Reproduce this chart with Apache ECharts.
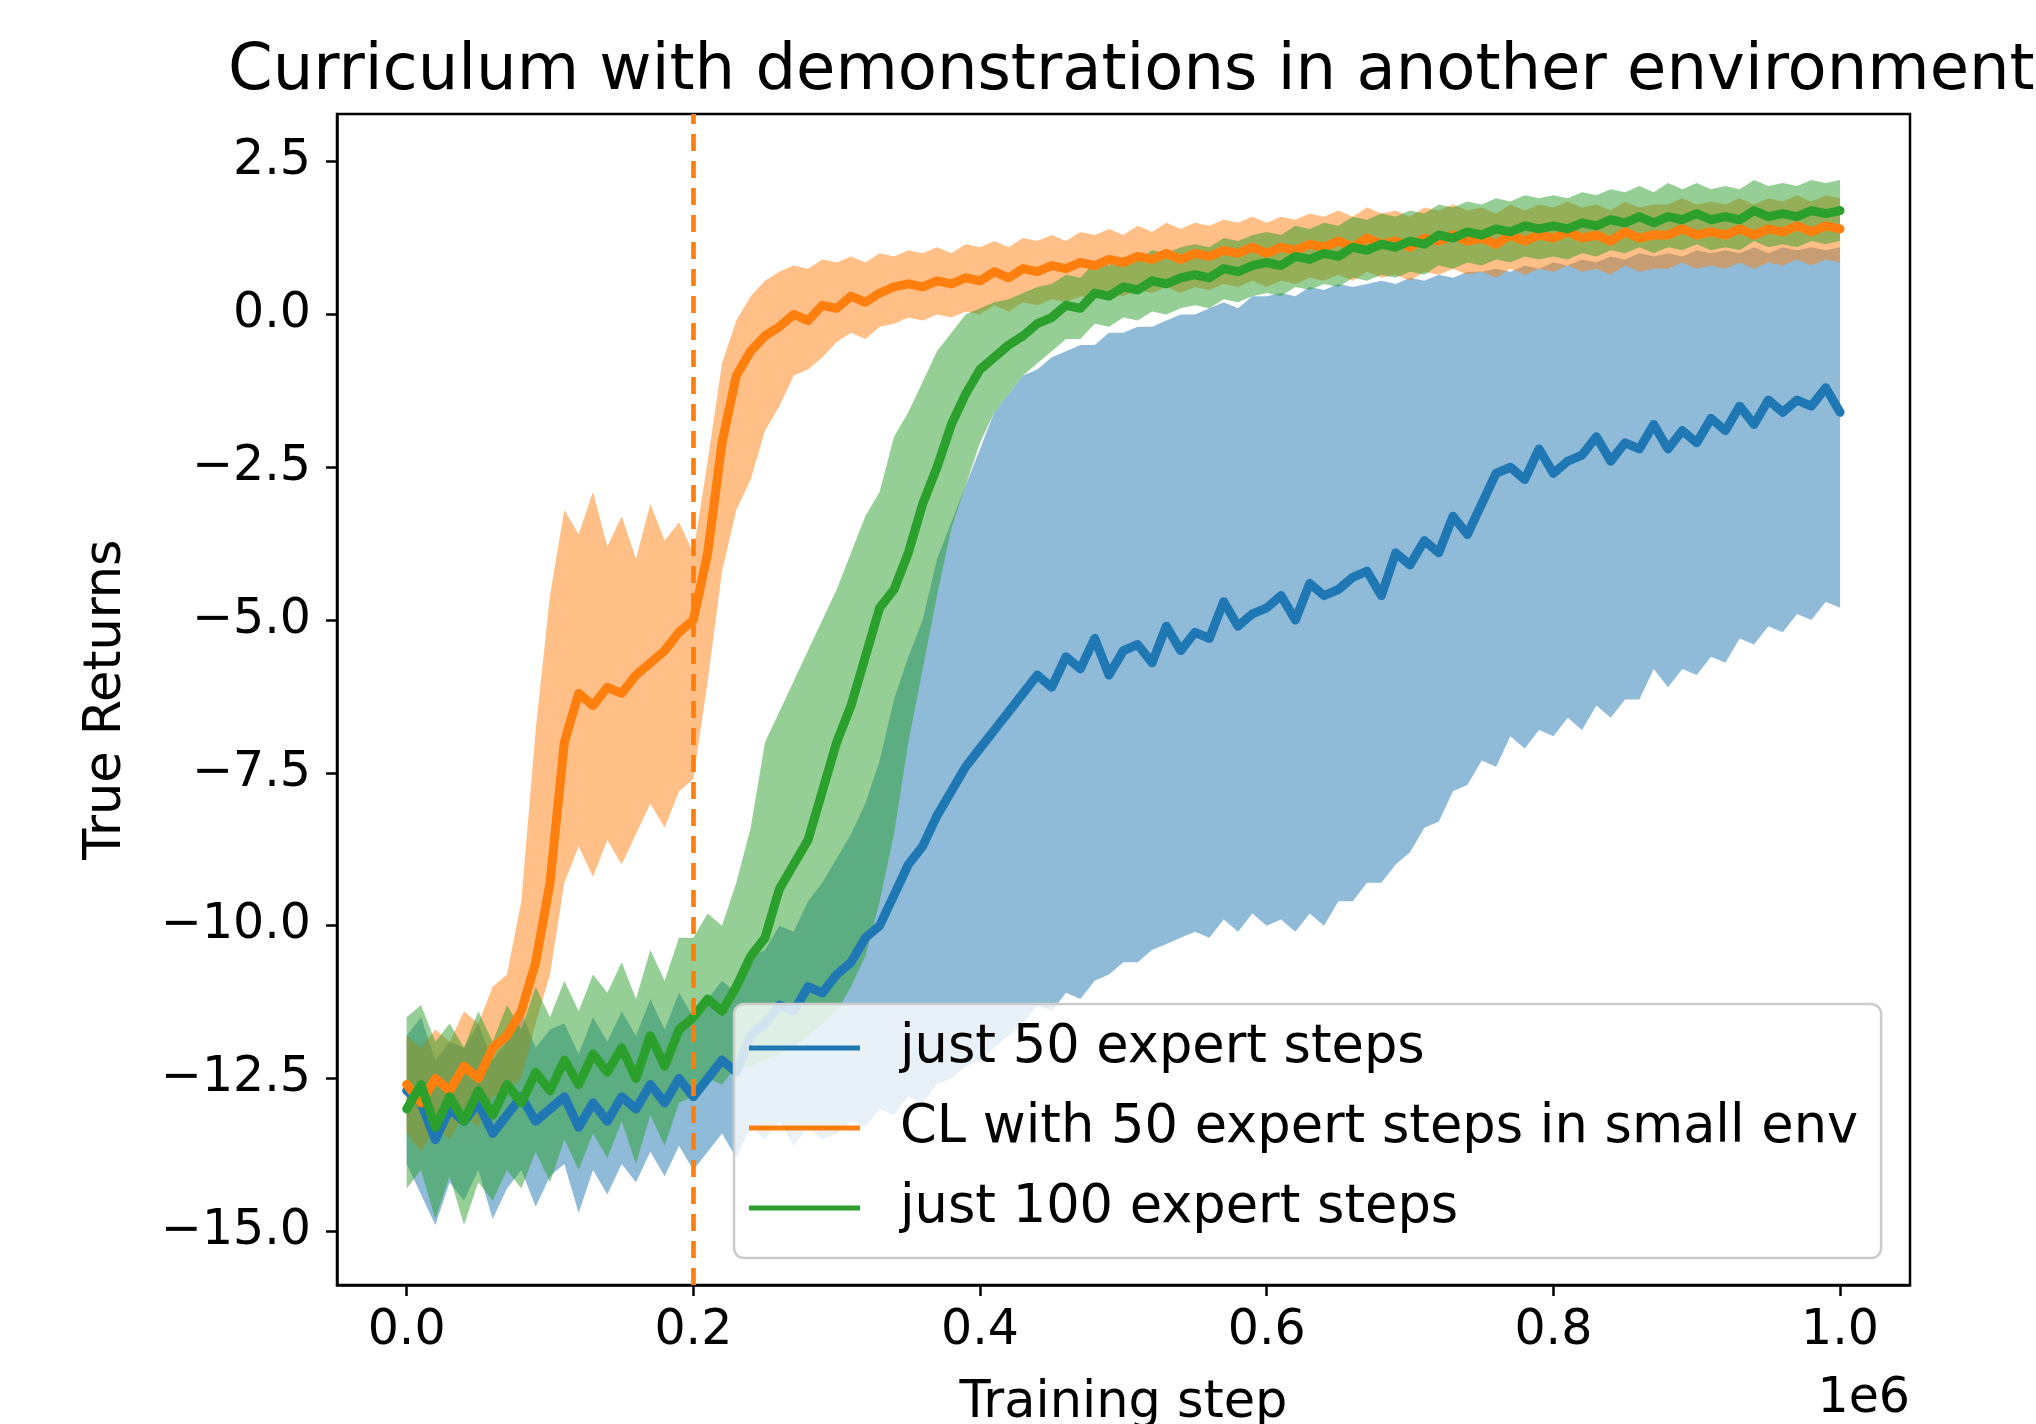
<!DOCTYPE html>
<html><head><meta charset="utf-8">
<script src="https://cdn.jsdelivr.net/npm/echarts@6/dist/echarts.min.js"></script>
<style>html,body{margin:0;padding:0;background:#fff}#c{width:2036px;height:1424px}</style>
</head><body><div id="c"></div><script>
// training steps (thousands)
const STEP_K = [0,10,20,30,40,50,60,70,80,90,100,110,120,130,140,150,160,170,180,190,200,210,220,230,240,250,260,270,280,290,300,310,320,330,340,350,360,370,380,390,400,410,420,430,440,450,460,470,480,490,500,510,520,530,540,550,560,570,580,590,600,610,620,630,640,650,660,670,680,690,700,710,720,730,740,750,760,770,780,790,800,810,820,830,840,850,860,870,880,890,900,910,920,930,940,950,960,970,980,990,1000];

// just 50 expert steps
const blueMean = [-12.7,-12.9,-13.5,-13.0,-13.2,-12.9,-13.4,-13.1,-12.8,-13.2,-13.0,-12.8,-13.3,-12.9,-13.2,-12.8,-13.0,-12.6,-12.9,-12.5,-12.8,-12.5,-12.2,-12.4,-11.8,-11.6,-11.3,-11.4,-11.0,-11.1,-10.8,-10.6,-10.2,-10.0,-9.5,-9.0,-8.7,-8.2,-7.8,-7.4,-7.1,-6.8,-6.5,-6.2,-5.9,-6.1,-5.6,-5.8,-5.3,-5.9,-5.5,-5.4,-5.7,-5.1,-5.5,-5.2,-5.3,-4.7,-5.1,-4.9,-4.8,-4.6,-5.0,-4.4,-4.6,-4.5,-4.3,-4.2,-4.6,-3.9,-4.1,-3.7,-3.9,-3.3,-3.6,-3.1,-2.6,-2.5,-2.7,-2.2,-2.6,-2.4,-2.3,-2.0,-2.4,-2.1,-2.2,-1.8,-2.2,-1.9,-2.1,-1.7,-1.9,-1.5,-1.8,-1.4,-1.6,-1.4,-1.5,-1.2,-1.6];
const blueUpper = [-11.8,-11.5,-12.2,-11.9,-12.0,-11.6,-12.2,-11.9,-11.4,-12.0,-11.7,-11.6,-12.1,-11.5,-11.9,-11.4,-11.8,-11.2,-11.7,-11.1,-11.5,-11.2,-10.9,-11.1,-10.5,-10.4,-10.0,-10.1,-9.6,-9.3,-8.9,-8.5,-8.0,-7.3,-6.3,-5.6,-5.0,-4.0,-3.4,-2.8,-2.2,-1.6,-1.3,-1.0,-0.9,-0.7,-0.6,-0.5,-0.5,-0.3,-0.3,-0.2,-0.2,-0.1,0.0,0.0,0.1,0.2,0.1,0.3,0.3,0.35,0.3,0.45,0.4,0.5,0.45,0.5,0.55,0.5,0.6,0.55,0.65,0.6,0.7,0.7,0.75,0.7,0.8,0.75,0.85,0.8,0.9,0.85,0.95,0.9,1.0,0.95,1.0,0.95,1.05,1.0,1.05,1.0,1.1,1.0,1.1,1.05,1.1,1.05,1.1];
const blueLower = [-13.9,-14.4,-14.9,-14.2,-14.5,-14.0,-14.8,-14.3,-14.0,-14.6,-14.1,-13.9,-14.7,-14.0,-14.4,-13.9,-14.2,-13.7,-14.1,-13.6,-14.0,-13.7,-13.4,-13.8,-13.3,-13.5,-13.2,-13.6,-13.3,-13.5,-13.4,-13.2,-13.3,-13.0,-13.1,-12.8,-12.9,-12.6,-12.5,-12.3,-12.2,-12.0,-11.8,-11.6,-11.3,-11.4,-11.1,-11.2,-10.9,-10.8,-10.6,-10.6,-10.4,-10.3,-10.2,-10.1,-10.2,-9.9,-10.1,-9.8,-10.0,-9.9,-10.1,-9.8,-10.0,-9.6,-9.6,-9.3,-9.3,-9.0,-8.8,-8.4,-8.3,-7.8,-7.7,-7.3,-7.4,-6.9,-7.1,-6.8,-6.9,-6.6,-6.8,-6.4,-6.6,-6.3,-6.3,-5.8,-6.1,-5.8,-5.9,-5.6,-5.7,-5.3,-5.4,-5.1,-5.2,-4.9,-5.0,-4.7,-4.8];

// CL with 50 expert steps in small env
const orangeMean = [-12.6,-12.9,-12.5,-12.7,-12.3,-12.5,-12.0,-11.8,-11.4,-10.6,-9.3,-7.0,-6.2,-6.4,-6.1,-6.2,-5.9,-5.7,-5.5,-5.2,-5.0,-3.9,-2.1,-1.0,-0.6,-0.35,-0.2,0.0,-0.1,0.15,0.1,0.3,0.2,0.35,0.45,0.5,0.45,0.55,0.5,0.6,0.55,0.7,0.6,0.75,0.7,0.8,0.75,0.85,0.8,0.9,0.85,0.95,0.9,1.0,0.9,1.0,0.95,1.05,1.0,1.1,1.0,1.1,1.05,1.15,1.1,1.2,1.1,1.25,1.15,1.2,1.1,1.25,1.2,1.3,1.2,1.25,1.15,1.3,1.2,1.3,1.25,1.35,1.25,1.3,1.2,1.35,1.25,1.3,1.3,1.4,1.3,1.35,1.3,1.4,1.3,1.4,1.35,1.45,1.35,1.45,1.4];
const orangeUpper = [-11.8,-12.0,-11.7,-11.9,-11.4,-11.6,-11.0,-10.8,-9.6,-6.8,-4.6,-3.2,-3.6,-2.9,-3.8,-3.3,-4.0,-3.1,-3.7,-3.4,-3.9,-2.4,-0.8,-0.1,0.3,0.55,0.7,0.8,0.75,0.9,0.85,0.95,0.85,1.0,0.95,1.05,1.0,1.1,1.0,1.15,1.1,1.2,1.1,1.25,1.2,1.3,1.2,1.35,1.3,1.4,1.3,1.45,1.35,1.5,1.4,1.5,1.45,1.55,1.5,1.6,1.5,1.6,1.55,1.65,1.6,1.7,1.6,1.75,1.65,1.7,1.6,1.75,1.7,1.8,1.7,1.75,1.65,1.8,1.7,1.8,1.75,1.85,1.75,1.8,1.7,1.85,1.75,1.8,1.8,1.9,1.8,1.85,1.8,1.9,1.8,1.9,1.85,1.95,1.85,1.95,1.9];
const orangeLower = [-13.4,-13.7,-13.3,-13.5,-13.1,-13.3,-12.8,-12.7,-12.5,-11.6,-10.8,-9.3,-8.7,-9.2,-8.6,-9.0,-8.5,-8.0,-8.4,-7.8,-7.6,-6.0,-4.2,-3.2,-2.7,-1.9,-1.5,-1.0,-0.9,-0.7,-0.45,-0.3,-0.4,-0.2,-0.15,-0.05,-0.1,0.0,-0.05,0.05,0.0,0.15,0.05,0.2,0.15,0.25,0.2,0.3,0.25,0.35,0.3,0.4,0.35,0.45,0.35,0.45,0.4,0.5,0.45,0.55,0.45,0.55,0.5,0.6,0.55,0.65,0.55,0.7,0.6,0.65,0.55,0.7,0.65,0.75,0.65,0.7,0.6,0.75,0.65,0.75,0.7,0.8,0.7,0.75,0.65,0.8,0.7,0.75,0.75,0.85,0.75,0.8,0.75,0.85,0.75,0.85,0.8,0.9,0.8,0.9,0.85];

// just 100 expert steps
const greenMean = [-13.0,-12.6,-13.3,-12.8,-13.2,-12.7,-13.1,-12.6,-12.9,-12.4,-12.7,-12.2,-12.6,-12.1,-12.4,-12.0,-12.5,-11.8,-12.3,-11.7,-11.5,-11.2,-11.4,-11.0,-10.5,-10.2,-9.4,-9.0,-8.6,-7.8,-7.0,-6.4,-5.6,-4.8,-4.5,-3.9,-3.1,-2.5,-1.8,-1.3,-0.9,-0.7,-0.5,-0.35,-0.15,-0.05,0.15,0.1,0.35,0.3,0.45,0.4,0.55,0.5,0.6,0.65,0.6,0.75,0.7,0.8,0.85,0.8,0.95,0.9,1.0,0.95,1.1,1.05,1.15,1.1,1.2,1.15,1.3,1.25,1.35,1.3,1.4,1.35,1.45,1.4,1.45,1.4,1.5,1.45,1.55,1.5,1.6,1.5,1.6,1.55,1.65,1.55,1.6,1.55,1.7,1.6,1.65,1.6,1.7,1.65,1.7];
const greenUpper = [-11.5,-11.3,-11.9,-11.6,-12.0,-11.4,-11.9,-11.3,-11.7,-11.0,-11.5,-10.9,-11.4,-10.8,-11.1,-10.6,-11.2,-10.4,-10.9,-10.2,-10.2,-9.8,-10.0,-9.3,-8.4,-7.0,-6.5,-6.0,-5.5,-5.0,-4.5,-3.9,-3.3,-2.9,-2.0,-1.6,-1.1,-0.6,-0.3,0.0,0.1,0.2,0.25,0.35,0.45,0.5,0.65,0.6,0.85,0.8,0.95,0.9,1.05,1.0,1.1,1.15,1.1,1.25,1.2,1.3,1.35,1.3,1.45,1.4,1.5,1.45,1.6,1.55,1.65,1.6,1.7,1.65,1.8,1.75,1.85,1.8,1.9,1.85,1.95,1.9,1.95,1.9,2.0,1.95,2.05,2.0,2.1,2.0,2.15,2.05,2.15,2.05,2.1,2.05,2.2,2.1,2.15,2.1,2.2,2.15,2.2];
const greenLower = [-14.3,-14.0,-14.8,-14.1,-14.9,-14.2,-14.5,-14.0,-14.3,-13.7,-14.2,-13.5,-14.0,-13.4,-13.8,-13.2,-13.9,-13.1,-13.6,-12.9,-12.8,-12.5,-12.6,-12.3,-12.3,-12.2,-12.1,-12.0,-11.8,-11.6,-11.4,-11.0,-10.5,-9.6,-8.5,-7.0,-5.8,-4.6,-3.5,-2.8,-2.1,-1.6,-1.3,-1.0,-0.8,-0.6,-0.4,-0.4,-0.15,-0.2,-0.05,-0.1,0.05,0.0,0.1,0.15,0.1,0.25,0.2,0.3,0.35,0.3,0.45,0.4,0.5,0.45,0.6,0.55,0.65,0.6,0.7,0.65,0.8,0.75,0.85,0.8,0.9,0.85,0.95,0.9,0.95,0.9,1.0,0.95,1.05,1.0,1.1,1.0,1.1,1.05,1.15,1.05,1.1,1.05,1.2,1.1,1.15,1.1,1.2,1.15,1.2];

const SERIES_NAMES = ['just 50 expert steps', 'CL with 50 expert steps in small env', 'just 100 expert steps'];
const COLORS = ['#1f77b4', '#ff7f0e', '#2ca02c'];
const BAND_FILLS = ['rgba(31,119,180,0.5)', 'rgba(255,127,14,0.5)', 'rgba(44,160,44,0.5)'];
const X_TICKS = [0, 200000, 400000, 600000, 800000, 1000000];
const Y_TICKS = [-15, -12.5, -10, -7.5, -5, -2.5, 0, 2.5];
const CURRICULUM_SWITCH = 200000;

const FONT = 'DejaVu Sans';
const pairs = ys => STEP_K.map((k, i) => [k * 1000, ys[i]]);

function band(id, lo, up, fill) {
  const rows = STEP_K.map((k, i) => [k * 1000, lo[i], up[i]]);
  return {
    type: 'custom', name: id + '_band', data: rows, encode: { x: 0, y: [1, 2] },
    silent: true, animation: false, clip: true,
    renderItem: function (params, api) {
      if (params.dataIndex !== 0) return null;
      const pts = [];
      for (let i = 0; i < rows.length; i++) pts.push(api.coord([rows[i][0], rows[i][2]]));
      for (let i = rows.length - 1; i >= 0; i--) pts.push(api.coord([rows[i][0], rows[i][1]]));
      return { type: 'polygon', shape: { points: pts }, style: { fill: fill, stroke: null } };
    }
  };
}
function meanLine(name, ys, color, extra) {
  return Object.assign({ type: 'line', name: name, data: pairs(ys), symbol: 'none',
    lineStyle: { color: color, width: 9, join: 'round', cap: 'round' }, itemStyle: { color: color }, animation: false }, extra || {});
}

const chart = echarts.init(document.getElementById('c'), null, { renderer: 'canvas' });
chart.setOption({
  backgroundColor: '#ffffff',
  animation: false,
  title: {
    text: 'Curriculum with demonstrations in another environment',
    left: 228, top: 40, padding: 0,
    textStyle: { fontFamily: FONT, fontSize: 64, fontWeight: 'normal', color: '#000' }
  },
  grid: { left: 337, top: 114, width: 1573, height: 1171, outerBoundsMode: 'none', containLabel: false,
          show: true, borderColor: '#000', borderWidth: 2.5, backgroundColor: 'transparent' },
  xAxis: {
    type: 'value', min: -48600, max: 1048800,
    name: 'Training step', nameLocation: 'middle', nameGap: 93,
    nameTextStyle: { fontFamily: FONT, fontSize: 51, color: '#000' },
    axisLine: { show: true, onZero: false, lineStyle: { color: '#000', width: 2.5 } },
    axisTick: { show: true, length: 11, lineStyle: { color: '#000', width: 2.5 }, customValues: X_TICKS },
    axisLabel: { customValues: X_TICKS, formatter: v => (v / 1e6).toFixed(1), fontFamily: FONT, fontSize: 49, color: '#000', margin: 22 },
    splitLine: { show: false }
  },
  yAxis: {
    type: 'value', min: -15.88, max: 3.28,
    name: 'True Returns', nameLocation: 'middle', nameGap: 205, nameRotate: 90,
    nameTextStyle: { fontFamily: FONT, fontSize: 51, color: '#000' },
    axisLine: { show: true, onZero: false, lineStyle: { color: '#000', width: 2.5 } },
    axisTick: { show: true, length: 11, lineStyle: { color: '#000', width: 2.5 }, customValues: Y_TICKS },
    axisLabel: { customValues: Y_TICKS, formatter: v => v.toFixed(1).replace('-', '\u2212'), fontFamily: FONT, fontSize: 49, color: '#000', margin: 26 },
    splitLine: { show: false }
  },
  legend: {
    orient: 'vertical', left: 734, top: 1004,
    data: SERIES_NAMES, icon: 'rect', itemWidth: 111, itemHeight: 5, itemGap: 20,
    padding: [14, 23, 20, 15],
    backgroundColor: 'rgba(255,255,255,0.8)', borderColor: '#cccccc', borderWidth: 2.5, borderRadius: 10,
    textStyle: { fontFamily: FONT, fontSize: 52.6, color: '#000', lineHeight: 60, padding: [0, 0, 0, 35] }
  },
  graphic: [
    { type: 'text', right: 2036 - 1910, top: 1375, style: { text: '1e6', font: '49px "DejaVu Sans"', fill: '#000' } }
  ],
  series: [
    band('blue', blueLower, blueUpper, BAND_FILLS[0]),
    meanLine(SERIES_NAMES[0], blueMean, COLORS[0]),
    band('orange', orangeLower, orangeUpper, BAND_FILLS[1]),
    meanLine(SERIES_NAMES[1], orangeMean, COLORS[1]),
    band('green', greenLower, greenUpper, BAND_FILLS[2]),
    meanLine(SERIES_NAMES[2], greenMean, COLORS[2], {
      markLine: {
        silent: true, symbol: ['none', 'none'], label: { show: false },
        lineStyle: { color: COLORS[1], type: [17, 10], width: 4.7 },
        data: [{ xAxis: CURRICULUM_SWITCH }]
      }
    })
  ]
});
</script></body></html>
